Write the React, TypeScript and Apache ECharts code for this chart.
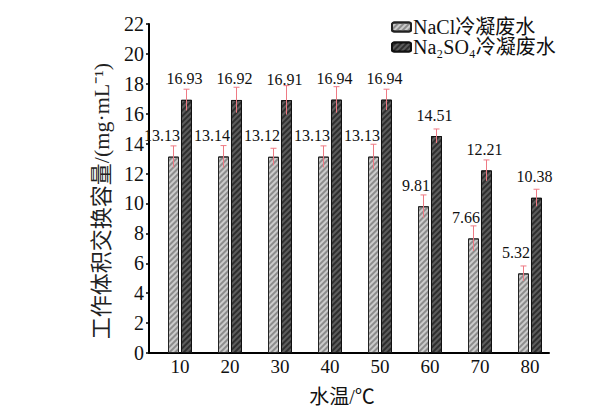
import React, { useEffect, useRef } from "react";
import * as echarts from "echarts";

const temps = [10, 20, 30, 40, 50, 60, 70, 80];
const naclValues = [13.13, 13.14, 13.12, 13.13, 13.13, 9.81, 7.66, 5.32];
const na2so4Values = [16.93, 16.92, 16.91, 16.94, 16.94, 14.51, 12.21, 10.38];
const naclErr = [0.72, 0.73, 0.57, 0.72, 0.83, 0.76, 0.84, 0.5];
const na2so4Err = [0.71, 0.85, 0.97, 0.87, 0.7, 0.47, 0.7, 0.57];
const yTicks = [0, 2, 4, 6, 8, 10, 12, 14, 16, 18, 20, 22];

const seriesNames = ["NaCl冷凝废水", "Na₂SO₄冷凝废水"];
const yAxisName = "工作体积交换容量/(mg·mL⁻¹)";
const xAxisName = "水温/℃";

const FONT = "Liberation Serif, Noto Sans CJK SC, serif";
const BAR_W = 11;
const ERR_COLOR = "#ee7a84";

function errorSeries(values: number[], errs: number[], offset: number) {
  return {
    type: "custom",
    silent: true,
    z: 5,
    data: temps.map((t, i) => [t, values[i], errs[i]]),
    renderItem: (params: any, api: any) => {
      const x = api.value(0);
      const y = api.value(1);
      const e = api.value(2);
      const c = api.coord([x, y]);
      const cx = c[0] + offset;
      const top = api.coord([x, y + e])[1];
      const bot = api.coord([x, y - e])[1];
      const style = { stroke: ERR_COLOR, lineWidth: 1 };
      return {
        type: "group",
        children: [
          { type: "line", shape: { x1: cx, y1: top, x2: cx, y2: bot }, style },
          { type: "line", shape: { x1: cx - 3, y1: top, x2: cx + 3, y2: top }, style },
        ],
      };
    },
  };
}

export default function App() {
  const ref = useRef<HTMLDivElement>(null);
  useEffect(() => {
    if (!ref.current) return;
    const chart = echarts.init(ref.current, undefined, { renderer: "svg" });
    const option: any = {
      animation: false,
      backgroundColor: "#ffffff",
      textStyle: { fontFamily: FONT },
      grid: { left: 149, right: 56, top: 24, bottom: 59, containLabel: false },
      graphic: [
        {
          type: "text",
          x: 101,
          y: 201,
          rotation: Math.PI / 2,
          style: {
            text: yAxisName,
            fontFamily: FONT,
            fontSize: 22,
            fill: "#222",
            align: "center",
            verticalAlign: "middle",
          },
        },
      ],
      legend: {
        orient: "vertical",
        left: 391,
        top: 17,
        padding: 0,
        itemGap: 0,
        itemWidth: 19,
        itemHeight: 9,
        data: seriesNames,
        textStyle: { fontFamily: FONT, fontSize: 20, color: "#111", lineHeight: 20, padding: [0, 0, 0, -3] },
      },
      xAxis: {
        type: "value",
        min: 3.8,
        max: 83.8,
        name: xAxisName,
        nameLocation: "middle",
        nameGap: 34,
        nameTextStyle: { fontFamily: FONT, fontSize: 20, color: "#111", padding: [0, 14, 0, 0] },
        axisLine: { show: true, lineStyle: { color: "#000", width: 2 } },
        axisTick: { show: false },
        splitLine: { show: false },
        axisLabel: {
          customValues: temps,
          fontFamily: FONT,
          fontSize: 19,
          color: "#111",
          margin: 4,
        },
      },
      yAxis: {
        type: "value",
        min: yTicks[0],
        max: yTicks[yTicks.length - 1],
        interval: 2,
        axisLine: { show: true, lineStyle: { color: "#000", width: 2 } },
        axisTick: { show: true, length: 3, inside: false, lineStyle: { color: "#000", width: 1.5 } },
        splitLine: { show: false },
        axisLabel: { fontFamily: FONT, fontSize: 20, color: "#111", margin: 5 },
      },
      series: [
        {
          name: seriesNames[0],
          type: "bar",
          barWidth: BAR_W,
          barGap: "18%",
          data: temps.map((t, i) => [t, naclValues[i]]),
          itemStyle: {
            color: "#cbcbcb",
            borderColor: "#222",
            borderWidth: 1,
            decal: {
              symbol: "rect",
              symbolSize: 1,
              color: "#8c8c8c",
              dashArrayX: [1, 0],
              dashArrayY: [1.5, 2],
              rotation: -Math.PI / 4,
            },
          },
          label: {
            show: true,
            position: "top",
            distance: 13,
            align: "right",
            offset: [BAR_W / 2 + 1, 0],
            fontFamily: FONT,
            fontSize: 16,
            color: "#111",
            formatter: (p: any) => p.value[1].toFixed(2),
          },
        },
        {
          name: seriesNames[1],
          type: "bar",
          barWidth: BAR_W,
          barGap: "18%",
          data: temps.map((t, i) => [t, na2so4Values[i]]),
          itemStyle: {
            color: "#2e2e2e",
            borderColor: "#111",
            borderWidth: 1,
            decal: {
              symbol: "rect",
              symbolSize: 1,
              color: "#5c5c5c",
              dashArrayX: [1, 0],
              dashArrayY: [1.5, 2],
              rotation: -Math.PI / 4,
            },
          },
          label: {
            show: true,
            position: "top",
            distance: 13,
            offset: [-2, 0],
            fontFamily: FONT,
            fontSize: 16,
            color: "#111",
            formatter: (p: any) => p.value[1].toFixed(2),
          },
        },
        errorSeries(naclValues, naclErr, -6.5),
        errorSeries(na2so4Values, na2so4Err, 6.5),
      ],
    };
    chart.setOption(option);
    return () => chart.dispose();
  }, []);
  return (
    <div
      ref={ref}
      style={{ position: "fixed", left: 0, top: 0, width: 605, height: 412, background: "#fff" }}
    />
  );
}
